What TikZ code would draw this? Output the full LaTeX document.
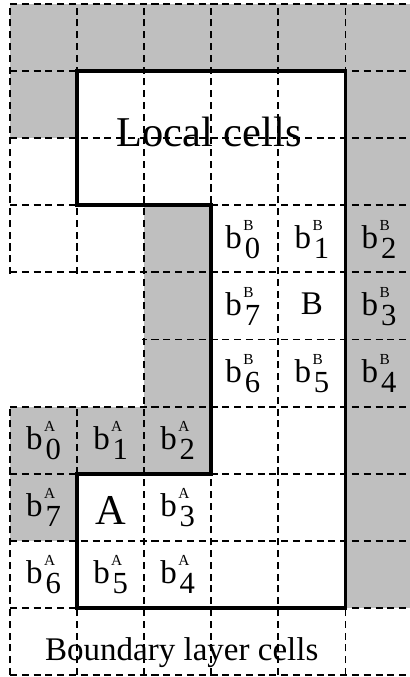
\documentclass[tikz,border=0pt]{standalone}
\usepackage{fontspec}
\setmainfont{Liberation Serif}
\definecolor{cellgray}{gray}{0.75}
\newcommand{\bnb}[2]{b\kern0.6pt\rlap{\raisebox{7.6pt}{\fontsize{6.5}{6.5}\selectfont #1}}\kern0.6pt\raisebox{-4.2pt}{\fontsize{13}{13}\selectfont #2}}

\begin{document}
\begin{tikzpicture}[x=1cm,y=1cm,
    gridline/.style={dash pattern=on 3pt off 2pt,line width=0.8pt},
    border/.style={line width=1.6pt,line join=miter},
    cell/.style={font=\fontsize{14}{14}\selectfont,anchor=base,inner sep=0pt}]
        \useasboundingbox (-0.149,-0.03) rectangle (5.955,10.06);
        % shaded boundary layer cells
        \fill[cellgray] (0,9) rectangle (5.955,10);
        \fill[cellgray] (0,8) rectangle (1,9);
        \fill[cellgray] (5,1) rectangle (5.955,9);
        \fill[cellgray] (2,3) rectangle (3,7);
        \fill[cellgray] (0,3) rectangle (2,4);
        \fill[cellgray] (0,2) rectangle (1,3);
        % dashed grid, left gap without cells
        \draw[gridline] (0,0) grid (5.955,10);
        \fill[white] (-0.05,4.03) rectangle (1.97,5.97);
        % local cells
        \draw[border] (1,9) -| (5,1) -| (1,3) -| (3,7) -| (1,9) -- cycle;
        \node[font=\fontsize{18}{18}\selectfont,anchor=base,inner sep=0pt] (local) at (2.97,7.87) {Local cells};
        \node[font=\fontsize{14}{14}\selectfont,anchor=base,inner sep=0pt] (boundary) at (2.56,0.22) {Boundary layer cells};
        % neighbours of B
        \node[cell] (bB0) at (3.47,6.36) {\bnb{B}{0}};
        \node[cell] (bB1) at (4.5,6.36) {\bnb{B}{1}};
        \node[cell] (bB2) at (5.5,6.36) {\bnb{B}{2}};
        \node[cell] (bB7) at (3.47,5.36) {\bnb{B}{7}};
        \node[cell] (cB) at (4.5,5.37) {B};
        \node[cell] (bB3) at (5.5,5.36) {\bnb{B}{3}};
        \node[cell] (bB6) at (3.47,4.36) {\bnb{B}{6}};
        \node[cell] (bB5) at (4.5,4.36) {\bnb{B}{5}};
        \node[cell] (bB4) at (5.5,4.36) {\bnb{B}{4}};
        % neighbours of A
        \node[cell] (bA0) at (0.5,3.36) {\bnb{A}{0}};
        \node[cell] (bA1) at (1.5,3.36) {\bnb{A}{1}};
        \node[cell] (bA2) at (2.5,3.36) {\bnb{A}{2}};
        \node[cell] (bA7) at (0.5,2.36) {\bnb{A}{7}};
        \node[cell,font=\fontsize{18}{18}\selectfont] (cA) at (1.5,2.25) {A};
        \node[cell] (bA3) at (2.5,2.36) {\bnb{A}{3}};
        \node[cell] (bA6) at (0.5,1.36) {\bnb{A}{6}};
        \node[cell] (bA5) at (1.5,1.36) {\bnb{A}{5}};
        \node[cell] (bA4) at (2.5,1.36) {\bnb{A}{4}};
\end{tikzpicture}
\end{document}
